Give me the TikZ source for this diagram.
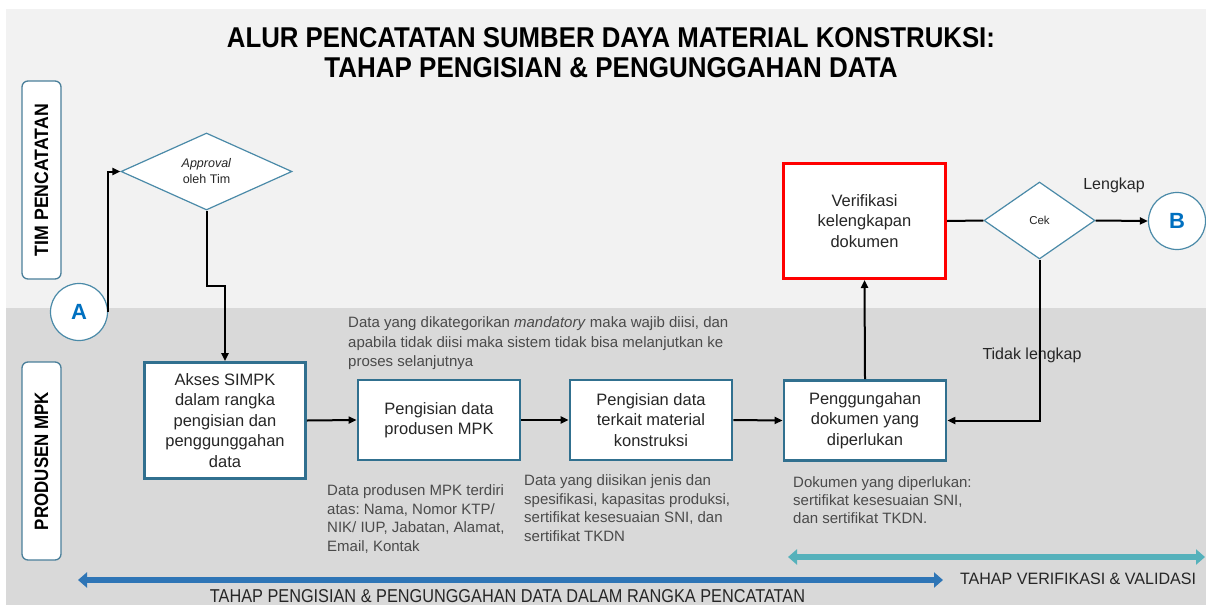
\documentclass[tikz,border=0pt]{standalone}
\usepackage{fontspec}
\setmainfont{Liberation Sans}
\usepackage{graphicx}
\usetikzlibrary{shapes.geometric,arrows.meta}
\frenchspacing
\definecolor{bgtop}{HTML}{F2F2F2}
\definecolor{bgbot}{HTML}{D9D9D9}
\definecolor{boxc}{HTML}{31708F}
\definecolor{diac}{HTML}{4A8AA8}
\definecolor{lanec}{HTML}{4A7F9A}
\definecolor{notec}{HTML}{4A4A4A}
\definecolor{txtc}{HTML}{262626}
\definecolor{letterc}{HTML}{0070C0}
\definecolor{barblue}{HTML}{2E75B6}
\definecolor{barteal}{HTML}{55B1BB}
\definecolor{redc}{HTML}{FF0000}
\begin{document}
\begin{tikzpicture}[x=1pt,y=-1pt,
  procbox/.style={draw=boxc,line width=2.8pt,fill=white,align=center,
    font=\fontsize{16.5}{20.5}\selectfont,text=txtc,inner sep=0pt,
    minimum width=162pt,minimum height=80pt},
  checkbox/.style={procbox,draw=redc,line width=3pt,minimum height=115pt},
  decision/.style={diamond,draw=diac,line width=1.2pt,fill=white,inner sep=0pt,
    align=center,text=txtc,aspect=2.2},
  connector/.style={circle,draw=diac,line width=1.2pt,fill=white,minimum size=57pt,
    inner sep=0pt,text=letterc,font=\fontsize{22}{22}\selectfont\bfseries},
  lane/.style={draw=lanec,line width=1.3pt,fill=white,rounded corners=6pt,
    minimum width=198pt,minimum height=39pt,rotate=90,inner sep=0pt,text=black},
  note/.style={anchor=north west,align=left,inner sep=0pt,text=notec},
  arr/.style={draw=black,line width=2pt,-{Triangle[length=8pt,width=7pt]}},
  line/.style={draw=black,line width=2pt},
  elabel/.style={font=\fontsize{16}{16}\selectfont,text=txtc,inner sep=0pt},
  phase/.style={line width=6.5pt,{Triangle[width=15pt,length=9pt]}-{Triangle[width=15pt,length=9pt]}}
]
\useasboundingbox (0,0) rectangle (1206,605);
% backgrounds
\fill[bgtop] (6,9) rectangle (1206,308);
\fill[bgbot] (6,308) rectangle (1206,605);

% title
\node[inner sep=0pt,text=black] (t1) at (611,38) {\resizebox{768pt}{20pt}{\bfseries ALUR PENCATATAN SUMBER DAYA MATERIAL KONSTRUKSI:}};
\node[inner sep=0pt,text=black] (t2) at (611,68) {\resizebox{573pt}{20pt}{\bfseries TAHAP PENGISIAN \& PENGUNGGAHAN DATA}};

% lanes
\node[lane] (lane1) at (41.5,180) {\resizebox{152pt}{13.5pt}{\bfseries TIM PENCATATAN}};
\node[lane] (lane2) at (41.5,461) {\resizebox{138pt}{13.5pt}{\bfseries PRODUSEN MPK}};

% nodes
\node[connector] (A) at (79,312) {A};
\node[connector] (B) at (1177,221) {B};
\node[decision,minimum width=171pt,minimum height=77pt,font=\fontsize{12.5}{16}\selectfont] (appr) at (206.5,171.5) {\textit{Approval}\\oleh Tim};
\node[procbox,minimum width=161pt,minimum height=116pt] (akses) at (225,420.5) {Akses SIMPK\\dalam rangka\\pengisian dan\\penggunggahan\\data};
\node[procbox] (prod) at (439,420) {Pengisian data\\produsen MPK};
\node[procbox] (mat) at (651,420) {Pengisian data\\terkait material\\konstruksi};
\node[procbox] (upl) at (865,420.5) {Penggungahan\\dokumen yang\\diperlukan};
\node[checkbox] (verif) at (864.5,221) {Verifikasi\\kelengkapan\\dokumen};
\node[decision,minimum width=111pt,minimum height=77pt,font=\fontsize{11.5}{12}\selectfont] (cek) at (1039.5,220.5) {Cek};

% connectors
\draw[arr] (A.east) |- (appr.west);
\draw[arr] (appr.south) -- ++(0,75) -| (akses.north);
\draw[arr] (akses.east) -- (prod.west);
\draw[arr] (prod.east) -- (mat.west);
\draw[arr] (mat.east) -- (upl.west);
\draw[arr] (upl.north) -- (verif.south);
\draw[line] (verif.east) -- (cek.west);
\draw[arr] (cek.east) -- (B.west);
\node[elabel] (lengkap) at (1114,185) {Lengkap};
\node[elabel] (tidak) at (1032,355) {Tidak lengkap};
\draw[arr] (cek.south) |- (upl.east);

% notes
\node[note,font=\fontsize{15}{19.5}\selectfont] (n1) at (348,316.5) {Data yang dikategorikan \textit{mandatory} maka wajib diisi, dan\\apabila tidak diisi maka sistem tidak bisa melanjutkan ke\\proses selanjutnya};
\node[note,font=\fontsize{15}{18.7}\selectfont] (n2) at (327,484.5) {Data produsen MPK terdiri\\atas: Nama, Nomor KTP/\\NIK/ IUP, Jabatan, Alamat,\\Email, Kontak};
\node[note,font=\fontsize{15}{18.7}\selectfont] (n3) at (524,474.5) {Data yang diisikan jenis dan\\spesifikasi, kapasitas produksi,\\sertifikat kesesuaian SNI, dan\\sertifikat TKDN};
\node[note,font=\fontsize{15}{18}\selectfont] (n4) at (793,476.5) {Dokumen yang diperlukan:\\sertifikat kesesuaian SNI,\\dan sertifikat TKDN.};

% phase arrows
\coordinate (pb1) at (78,580);
\coordinate (pb2) at (943,580);
\coordinate (pt1) at (788,557);
\coordinate (pt2) at (1205,557);
\draw[phase,barteal] (pt1) -- (pt2);
\draw[phase,barblue] (pb1) -- (pb2);
\node[inner sep=0pt,text=txtc] (ph2) at (1078,578.5) {\resizebox{236pt}{11.5pt}{TAHAP VERIFIKASI \& VALIDASI}};
\node[inner sep=0pt,text=txtc] (ph1) at (507.5,596.5) {\resizebox{595pt}{13pt}{TAHAP PENGISIAN \& PENGUNGGAHAN DATA DALAM RANGKA PENCATATAN}};
\end{tikzpicture}
\end{document}
